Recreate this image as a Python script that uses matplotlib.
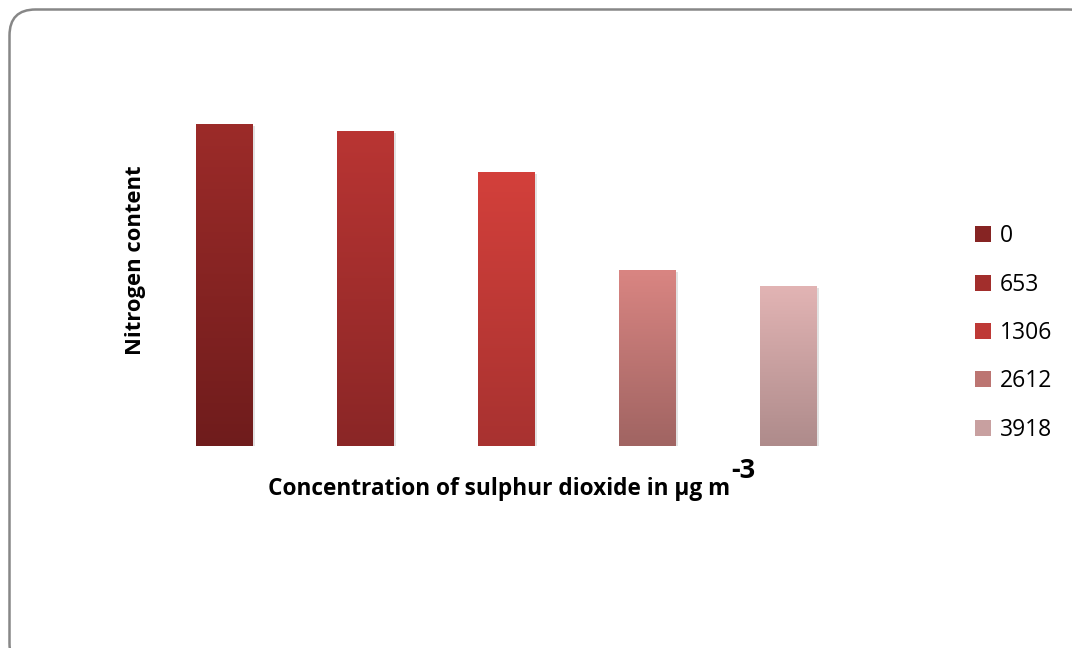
import numpy as np
import matplotlib
matplotlib.use("Agg")
import matplotlib.pyplot as plt
from matplotlib.patches import FancyBboxPatch, Patch
import matplotlib.patheffects as pe

plt.rcParams['font.family'] = ['Open Sans', 'DejaVu Sans']

# SO2 doses (µg m-3) and nitrogen content
concentrations = ['0', '653', '1306', '2612', '3918']
nitrogen = [3.22, 3.15, 2.74, 1.76, 1.60]

# top / bottom colour of each bar's gradient
top_colors = ['#9c2b29', '#b93533', '#d3403b', '#d98582', '#e2b4b4']
bottom_colors = ['#6f1c1c', '#8a2626', '#a83230', '#a06462', '#ae8b8b']

fig = plt.figure(figsize=(10.72, 6.48), dpi=100)

# rounded chart-area border, drawn in pixel units
bg = fig.add_axes([0, 0, 1, 1])
bg.set_xlim(0, 1072)
bg.set_ylim(648, 0)
bg.axis('off')
bg.add_patch(FancyBboxPatch((9.5, 9.5), 1085, 660,
                            boxstyle='round,pad=0,rounding_size=26',
                            facecolor='white', edgecolor='#878787', lw=1.8))

ax = fig.add_axes([154 / 1072, (648 - 446) / 648, 705 / 1072, 336 / 648])
ax.axis('off')

x = np.arange(len(concentrations))
bars = ax.bar(x, nitrogen, width=0.404, color='white', zorder=2)

for rect, c_top, c_bot in zip(bars, top_colors, bottom_colors):
    rect.set_path_effects([pe.SimplePatchShadow(offset=(1.5, -1.5), shadow_rgbFace='#a0a0a0', alpha=0.3),
                           pe.Normal()])
    x0, w, h = rect.get_x(), rect.get_width(), rect.get_height()
    t = np.linspace(0, 1, 256)[:, None, None]
    ct = np.array(matplotlib.colors.to_rgb(c_top))
    cb = np.array(matplotlib.colors.to_rgb(c_bot))
    grad = ct * (1 - t) + cb * t
    ax.imshow(grad, extent=(x0, x0 + w, 0, h), aspect='auto', zorder=3, interpolation='bilinear')

ax.set_xlim(-0.5, 4.5)
ax.set_ylim(0, 3.36)

mid_colors = [matplotlib.colors.to_hex((np.array(matplotlib.colors.to_rgb(a)) +
                                        np.array(matplotlib.colors.to_rgb(b))) / 2)
              for a, b in zip(top_colors, bottom_colors)]
handles = [Patch(facecolor=c, edgecolor='none') for c in mid_colors]
fig.legend(handles, concentrations, loc='center left', bbox_to_anchor=(975 / 1072, 1 - 333 / 648),
           frameon=False, fontsize=16.5, handlelength=0.7, handleheight=0.7,
           handletextpad=0.4, labelspacing=1.06, borderaxespad=0, borderpad=0)

fig.text(135 / 1072, 1 - 260 / 648, 'Nitrogen content', rotation=90, fontsize=15.8,
         fontweight='bold', ha='center', va='center')
xlab = fig.text(268 / 1072, 1 - 489 / 648, 'Concentration of sulphur dioxide in µg m', fontsize=16.3,
                fontweight='bold', ha='left', va='center')
fig.add_artist(plt.Annotation('-3', xy=(1.0, 1.0), xycoords=xlab, xytext=(1, 4),
                              textcoords='offset points', fontsize=19.5, fontweight='bold',
                              ha='left', va='center'))

fig.savefig('out.png', dpi=100)
